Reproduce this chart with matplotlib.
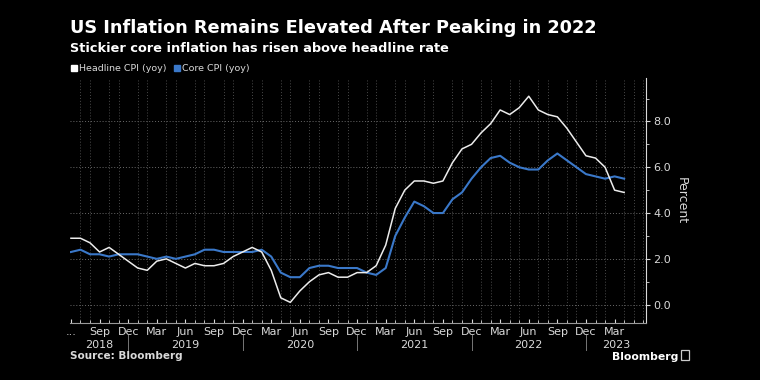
import matplotlib
matplotlib.use("Agg")
import matplotlib.pyplot as plt
import matplotlib.transforms as mtransforms
from matplotlib.patches import Rectangle

# monthly data, Jun 2018 .. Apr 2023
headline = [
    2.9, 2.9, 2.7, 2.3, 2.5, 2.2, 1.9,
    1.6, 1.5, 1.9, 2.0, 1.8, 1.6, 1.8, 1.7, 1.7, 1.8, 2.1, 2.3,
    2.5, 2.3, 1.5, 0.3, 0.1, 0.6, 1.0, 1.3, 1.4, 1.2, 1.2, 1.4,
    1.4, 1.7, 2.6, 4.2, 5.0, 5.4, 5.4, 5.3, 5.4, 6.2, 6.8, 7.0,
    7.5, 7.9, 8.5, 8.3, 8.6, 9.1, 8.5, 8.3, 8.2, 7.7, 7.1, 6.5,
    6.4, 6.0, 5.0, 4.9,
]
core = [
    2.3, 2.4, 2.2, 2.2, 2.1, 2.2, 2.2,
    2.2, 2.1, 2.0, 2.1, 2.0, 2.1, 2.2, 2.4, 2.4, 2.3, 2.3, 2.3,
    2.3, 2.4, 2.1, 1.4, 1.2, 1.2, 1.6, 1.7, 1.7, 1.6, 1.6, 1.6,
    1.4, 1.3, 1.6, 3.0, 3.8, 4.5, 4.3, 4.0, 4.0, 4.6, 4.9, 5.5,
    6.0, 6.4, 6.5, 6.2, 6.0, 5.9, 5.9, 6.3, 6.6, 6.3, 6.0, 5.7,
    5.6, 5.5, 5.6, 5.5,
]
month_labels = ["...", "Sep", "Dec",
                "Mar", "Jun", "Sep", "Dec",
                "Mar", "Jun", "Sep", "Dec",
                "Mar", "Jun", "Sep", "Dec",
                "Mar", "Jun", "Sep", "Dec",
                "Mar"]
years = ["2018", "2019", "2020", "2021", "2022", "2023"]
y_ticks = [0, 2, 4, 6, 8]

BG = "black"
FG = "#d9d9d9"
WHITE_LINE = "#ececec"
BLUE = "#3a78c9"
GRID = "#4a4a4a"

fig = plt.figure(figsize=(7.6, 3.8), dpi=100, facecolor=BG)
ax = fig.add_axes([0.0921, 0.15, 0.758, 0.645], facecolor=BG)

x = list(range(len(headline)))
ax.plot(x, headline, color=WHITE_LINE, lw=1.1, zorder=3)
ax.plot(x, core, color=BLUE, lw=1.5, zorder=2)

ax.set_xlim(-0.1, 60.3)
ax.set_ylim(-0.8, 9.9)

# y axis on right
ax.yaxis.tick_right()
ax.yaxis.set_label_position("right")
ax.set_yticks(y_ticks)
ax.set_yticklabels([f"{v:.1f}" for v in y_ticks])
ax.set_yticks([1, 3, 5, 7, 9], minor=True)
ax.tick_params(axis="y", which="major", colors=FG, labelsize=8, length=3,
               direction="out", pad=2)
ax.tick_params(axis="y", which="minor", colors=FG, length=2, direction="out")
ax.set_ylabel("Percent", color=FG, fontsize=9, rotation=270, labelpad=12)

# x axis: every month minor, labels every 3 months
ax.set_xticks(range(0, len(headline), 3))
ax.set_xticklabels(month_labels)
ax.set_xticks(range(len(headline) + 2), minor=True)
ax.tick_params(axis="x", which="major", colors=FG, labelsize=8, length=3,
               direction="in", pad=3)
ax.tick_params(axis="x", which="minor", colors=FG, length=2, direction="in")

for side in ["top", "left"]:
    ax.spines[side].set_visible(False)
ax.spines["right"].set_color(FG)
ax.spines["bottom"].set_color("#9a9a9a")
ax.spines["right"].set_linewidth(0.8)
ax.spines["bottom"].set_linewidth(0.8)

ax.grid(axis="x", which="minor", color=GRID, ls=(0, (1, 2)), lw=0.7)
ax.grid(axis="y", which="major", color="#6a6a6a", ls=(0, (1, 2)), lw=0.7)
ax.set_axisbelow(True)

# year labels with separators at Dec
trans = mtransforms.blended_transform_factory(ax.transData, ax.transAxes)
bounds = [-0.1, 6, 18, 30, 42, 54, 60.3]
for i, yr in enumerate(years):
    mid = (bounds[i] + bounds[i + 1]) / 2
    ax.text(mid, -0.088, yr, transform=trans, ha="center", va="center",
            color=FG, fontsize=8)
for b in bounds[1:-1]:
    ax.plot([b, b], [-0.05, -0.11], transform=trans, color="#777777",
            lw=0.7, clip_on=False)

# titles
fig.text(0.092, 0.912, "US Inflation Remains Elevated After Peaking in 2022",
         color="white", fontsize=12.8, fontweight="bold", va="baseline")
fig.text(0.092, 0.862, "Stickier core inflation has risen above headline rate",
         color="white", fontsize=9.3, fontweight="bold", va="baseline")

# legend
fig.patches.append(Rectangle((0.0935, 0.813), 0.008, 0.016, color="white",
                             transform=fig.transFigure, figure=fig))
fig.text(0.104, 0.821, "Headline CPI (yoy)", color=FG, fontsize=6.8,
         va="center")
fig.patches.append(Rectangle((0.2285, 0.813), 0.008, 0.016, color=BLUE,
                             transform=fig.transFigure, figure=fig))
fig.text(0.239, 0.821, "Core CPI (yoy)", color=FG, fontsize=6.8, va="center")

fig.text(0.092, 0.055, "Source: Bloomberg", color=FG, fontsize=7.5,
         fontweight="bold")
fig.text(0.805, 0.052, "Bloomberg", color="white", fontsize=7.8,
         fontweight="bold")
fig.patches.append(Rectangle((0.896, 0.052), 0.011, 0.026, facecolor="none",
                             edgecolor="#cccccc", lw=0.9,
                             transform=fig.transFigure, figure=fig))

fig.savefig("out.png", dpi=100, facecolor=BG)
